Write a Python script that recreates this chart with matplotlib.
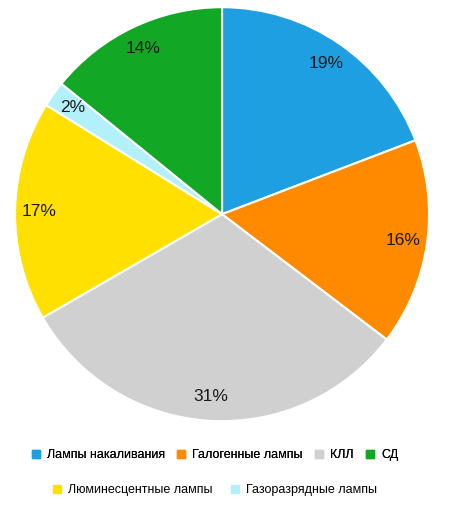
import matplotlib.pyplot as plt
from matplotlib.lines import Line2D

plt.rcParams['font.family'] = ['Liberation Sans', 'DejaVu Sans']

labels = ['Лампы накаливания', 'Галогенные лампы', 'КЛЛ', 'СД',
          'Люминесцентные лампы', 'Газоразрядные лампы']
values = [19, 16, 31, 17, 2, 14]
# slice order around the pie (clockwise from top)
pie_labels = ['Лампы накаливания', 'Галогенные лампы', 'КЛЛ',
              'Люминесцентные лампы', 'Газоразрядные лампы', 'СД']
colors = {'Лампы накаливания': '#1E9FE2', 'Галогенные лампы': '#FF8A00',
          'КЛЛ': '#D0D0D0', 'СД': '#12A826',
          'Люминесцентные лампы': '#FFE000', 'Газоразрядные лампы': '#B2F0FA'}

fig = plt.figure(figsize=(4.49, 5.13), dpi=100)
ax = fig.add_axes([0.031, 0.177, 0.927, 0.811])

wedges, texts = ax.pie(values, colors=[colors[l] for l in pie_labels],
                       labels=[f'{v}%' for v in values],
                       labeldistance=0.885, startangle=90, counterclock=False,
                       wedgeprops=dict(edgecolor='white', linewidth=1.5),
                       textprops=dict(fontsize=12.5, color='#1a1a1a'))
for t in texts:
    t.set_ha('center')
    t.set_va('center')
ax.set_xlim(-1.005, 1.005)
ax.set_ylim(-1.005, 1.005)
ax.set_aspect('equal')

def handles(names):
    return [Line2D([], [], linestyle='none', marker='s', markersize=6,
                   markerfacecolor=colors[n], markeredgecolor=colors[n]) for n in names]

row1 = ['Лампы накаливания', 'Галогенные лампы', 'КЛЛ', 'СД']
row2 = ['Люминесцентные лампы', 'Газоразрядные лампы']
leg1 = fig.legend(handles(row1), row1, loc='center', bbox_to_anchor=(0.478, 0.113),
                  ncol=4, frameon=False, fontsize=9, handlelength=0.8,
                  handletextpad=0.5, columnspacing=0.9)
fig.legend(handles(row2), row2, loc='center', bbox_to_anchor=(0.478, 0.045),
           ncol=2, frameon=False, fontsize=9, handlelength=0.8,
           handletextpad=0.5, columnspacing=1.4)
fig.add_artist(leg1)

fig.savefig('out.png', dpi=100)
